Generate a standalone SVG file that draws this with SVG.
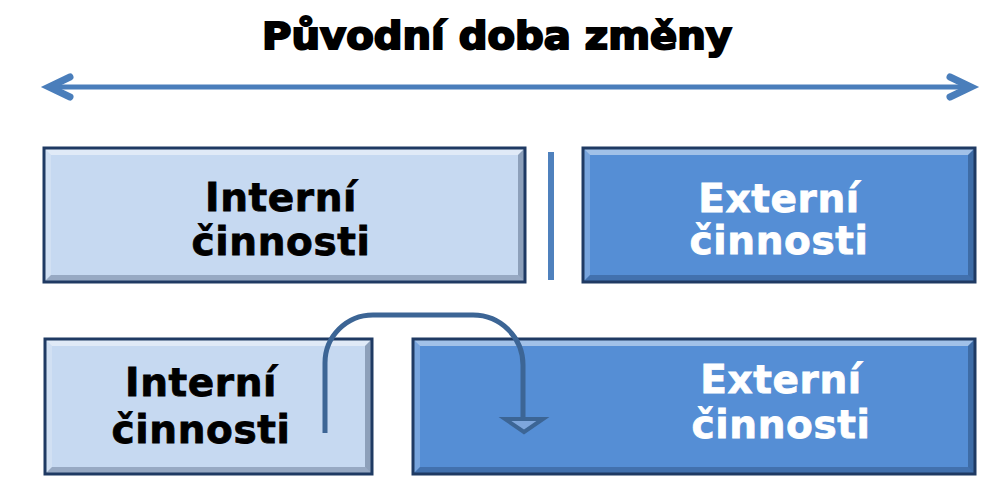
<svg xmlns="http://www.w3.org/2000/svg" width="996" height="480" viewBox="0 0 996 480">
<style>
.lt{fill:#c6d9f1}
.dk{fill:#558ed5}
.bt{fill:#ffffff;fill-opacity:0.45}
.bl{fill:#ffffff;fill-opacity:0.2}
.br{fill:#0b1d3a;fill-opacity:0.3}
.bb{fill:#0b1d3a;fill-opacity:0.25}
.edge{fill:none;stroke:#1f3a63;stroke-width:3}
.t{font-family:"DejaVu Sans",Verdana,sans-serif;font-weight:bold;font-size:39px;text-anchor:middle;letter-spacing:0.6px}
.tb{fill:#000;stroke:#000;stroke-width:0.8}
.tw{fill:#fff;stroke:#fff;stroke-width:0.8}
.conn{fill:none;stroke:#3c6595;stroke-width:5}
</style>
<rect width="996" height="480" fill="#fff"/>
<g id="title">
<text x="497" y="49" font-family="'DejaVu Sans',Verdana,sans-serif" font-weight="bold" font-size="37" fill="#000" stroke="#000" stroke-width="2" text-anchor="middle" textLength="470" lengthAdjust="spacingAndGlyphs">Původní doba změny</text>
</g>
<g id="span-arrow">
<line x1="52" y1="87" x2="968" y2="87" stroke="#4a7ebb" stroke-width="5"/>
<polyline points="70,77 49,87 70,97" fill="none" stroke="#4a7ebb" stroke-width="7" stroke-linecap="round" stroke-linejoin="miter"/>
<polyline points="950,77 971,87 950,97" fill="none" stroke="#4a7ebb" stroke-width="7" stroke-linecap="round" stroke-linejoin="miter"/>
</g>
<g id="divider">
<rect x="548" y="152" width="6" height="128" fill="#4f81bd"/>
</g>
<g id="internal-top">
<rect class="lt" x="44" y="148" width="481" height="134"/>
<polygon class="bt" points="44,148 525,148 518,155 51,155"/>
<polygon class="bl" points="44,148 51,155 51,275 44,282"/>
<polygon class="br" points="525,148 525,282 518,275 518,155"/>
<polygon class="bb" points="44,282 525,282 518,275 51,275"/>
<rect class="edge" x="44" y="148" width="481" height="134"/>
<text class="t tb" x="281" y="211">Interní</text>
<text class="t tb" x="281" y="255">činnosti</text>
</g>
<g id="external-top">
<rect class="dk" x="583" y="148" width="392" height="134"/>
<polygon class="bt" points="583,148 975,148 968,155 590,155"/>
<polygon class="bl" points="583,148 590,155 590,275 583,282"/>
<polygon class="br" points="975,148 975,282 968,275 968,155"/>
<polygon class="bb" points="583,282 975,282 968,275 590,275"/>
<rect class="edge" x="583" y="148" width="392" height="134"/>
<text class="t tw" x="779" y="212">Externí</text>
<text class="t tw" x="779" y="254">činnosti</text>
</g>
<g id="internal-bottom">
<rect class="lt" x="45" y="339" width="327" height="135"/>
<polygon class="bt" points="45,339 372,339 365,346 52,346"/>
<polygon class="bl" points="45,339 52,346 52,467 45,474"/>
<polygon class="br" points="372,339 372,474 365,467 365,346"/>
<polygon class="bb" points="45,474 372,474 365,467 52,467"/>
<rect class="edge" x="45" y="339" width="327" height="135"/>
<text class="t tb" x="201" y="396">Interní</text>
<text class="t tb" x="201" y="443">činnosti</text>
</g>
<g id="external-bottom">
<rect class="dk" x="413" y="339" width="562" height="135"/>
<polygon class="bt" points="413,339 975,339 968,346 420,346"/>
<polygon class="bl" points="413,339 420,346 420,467 413,474"/>
<polygon class="br" points="975,339 975,474 968,467 968,346"/>
<polygon class="bb" points="413,474 975,474 968,467 420,467"/>
<rect class="edge" x="413" y="339" width="562" height="135"/>
<text class="t tw" x="781" y="393">Externí</text>
<text class="t tw" x="781" y="438">činnosti</text>
</g>
<g id="connectors">
<path class="conn" d="M325,433 V363 C325,336.5 346.5,315 373,315 H473 C500.6,315 523,337.4 523,365 V418"/>
<polygon points="505,419 543,419 524,432" fill="#7ea6dc" stroke="#3c6595" stroke-width="4" stroke-linejoin="miter"/>
</g>
</svg>
